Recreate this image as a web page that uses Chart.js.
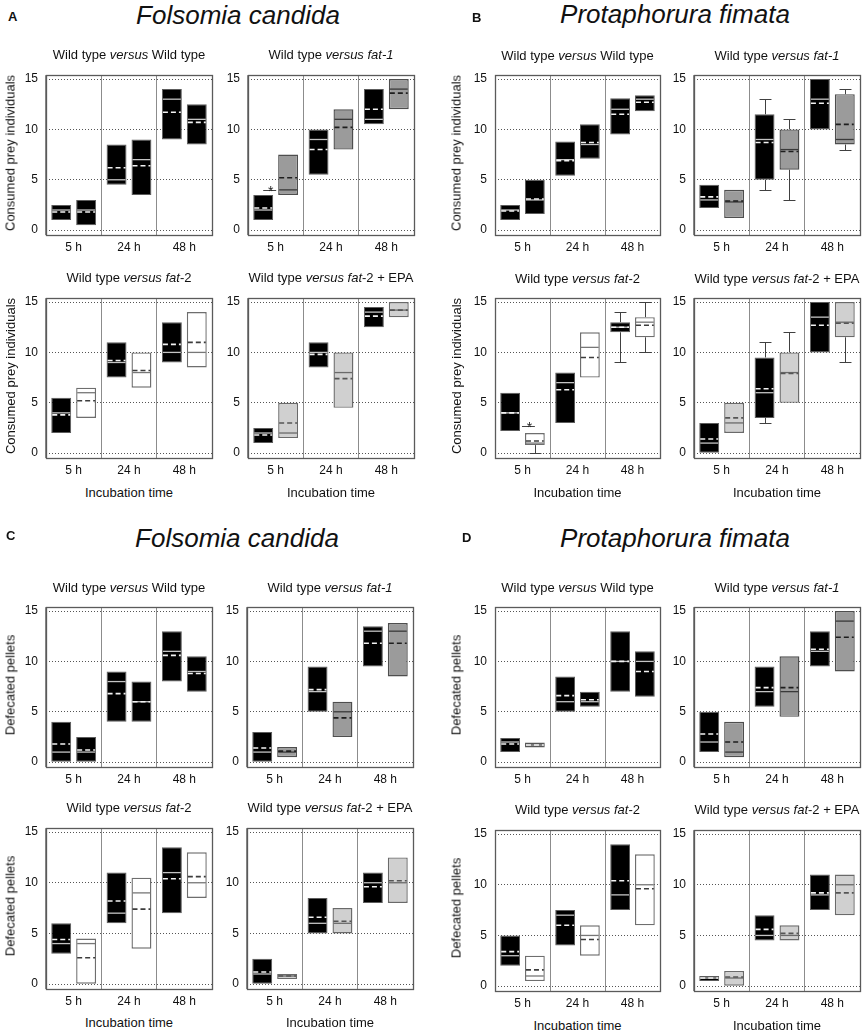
<!DOCTYPE html>
<html>
<head>
<meta charset="utf-8">
<script src="https://cdn.jsdelivr.net/npm/chart.js@4.4.1/dist/chart.umd.min.js"></script>
<style>
  body { margin: 0; background: #fff; }
  #fig { position: relative; width: 863px; height: 1032px; overflow: hidden;
         font-family: "Liberation Sans", Arial, sans-serif; color: #111; }
  .t { position: absolute; white-space: nowrap; line-height: 1; }
  canvas { position: absolute; }
</style>
</head>
<body>
<div id="fig"></div>
<script>
// ---- data ----
const categories = ['5 h', '24 h', '48 h'];
const yTicks = [0, 5, 10, 15];

// one tuple per time: [box low, box high, median, mean, whisker min, whisker max]
// A: Folsomia candida, consumed prey
const A1_wt = [[1, 2.5, 2, 1.8], [4.5, 8.5, 5, 6.2], [9, 14, 13, 11.7]];
const A1_vs = [[0.5, 3, 2, 1.8], [3.5, 9, 7, 6.4], [8.5, 12.5, 11, 10.7]];
const A2_wt = [[1, 3.5, 2, 2.2], [5.5, 10, 9, 8], [10.5, 14, 11, 12]];
const A2_vs = [[3.5, 7.5, 4, 5.2], [8, 12, 11, 10.2], [12, 15, 14, 13.6]];
const A3_wt = [[2, 5.5, 4, 3.8], [7.5, 11, 9, 9.2], [9, 13, 10, 10.8]];
const A3_vs = [[3.5, 6.5, 6, 5.2], [6.5, 10, 8, 8.2], [8.5, 14, 10, 11]];
const A4_wt = [[1, 2.5, 2, 1.8], [8.5, 11, 10, 9.8], [12.5, 14.5, 14, 13.6]];
const A4_vs = [[1.5, 5, 2, 3], [4.5, 10, 8, 7.4], [13.5, 15, 14.2, 14.2]];

// B: Protaphorura fimata, consumed prey
const B1_wt = [[1, 2.5, 2, 1.9], [5.4, 8.8, 7, 6.9], [9.5, 13.1, 12, 11.5]];
const B1_vs = [[1.6, 5, 3, 3.1], [7.1, 10.5, 8.5, 8.7], [11.8, 13.4, 13, 12.7]];
const B2_wt = [[2.2, 4.5, 3, 3.3], [5, 11.5, 9, 8.7, 4, 13], [10, 15, 13, 12.6]];
const B2_vs = [[1.2, 4, 2.8, 2.9], [6, 10, 8, 7.8, 3, 11], [8.5, 13.5, 9, 10.5, 8, 14]];
const B3_wt = [[2.2, 6, 4, 4], [3, 8, 7, 6.3], [12, 13, 12.5, 12.5, 9, 14]];
const B3_vs = [[0.8, 2, 1, 1.2, 0, null], [7.5, 12, 10.5, 9.5], [11.5, 13.5, 13, 12.7, 10, 15]];
const B4_wt = [[0, 3, 1, 1.4], [3.5, 9.5, 6, 6.4, 3, 11], [10, 15, 13.5, 12.7]];
const B4_vs = [[2, 5, 3, 3.5], [5, 10, 8, 7.9, null, 12], [11.5, 15, 13, 12.9, 9, null]];

// C: Folsomia candida, defecated pellets
const C1_wt = [[0, 4, 1, 1.8], [4, 9, 8, 6.8], [8, 13, 11, 10.6]];
const C1_vs = [[0, 2.5, 1, 1.2], [4, 8, 6, 6], [7, 10.5, 9, 8.8]];
const C2_wt = [[0, 3, 1, 1.4], [5, 9.5, 7, 7.2], [9.5, 13.5, 13, 11.8]];
const C2_vs = [[0.5, 1.5, 1, 1.1], [2.5, 6, 5, 4.4], [8.5, 13.8, 13, 11.8]];
const C3_wt = [[3, 6, 4, 4.4], [6, 11, 7, 8.2], [7, 13.5, 11, 10.4]];
const C3_vs = [[0, 4.5, 4, 2.6], [3.5, 10.5, 9, 7.4], [8.5, 13, 10, 10.6]];
const C4_wt = [[0, 2.5, 1, 1.2], [5, 8.5, 6, 6.6], [8, 11, 10, 9.6]];
const C4_vs = [[0.5, 1, 0.8, 0.8], [5, 7.5, 6, 6.2], [8, 12.5, 10, 10.2]];

// D: Protaphorura fimata, defecated pellets
const D1_wt = [[1, 2.4, 2, 1.8], [5, 8.5, 6, 6.6], [7, 13, 10, 10]];
const D1_vs = [[1.45, 1.95, 1.7, 1.7], [5.5, 7, 6, 6.2], [6.5, 11, 10, 9]];
const D2_wt = [[1, 5, 2, 2.8], [5.5, 9.5, 7, 7.4], [9.5, 13, 11, 11.2]];
const D2_vs = [[0.5, 4, 1, 2], [4.5, 10.5, 7, 7.4], [9, 15, 14, 12.4]];
const D3_wt = [[2, 5, 3, 3.4], [4, 7.5, 7, 6], [7.5, 14, 9, 10.4]];
const D3_vs = [[0.5, 3, 1, 1.6], [3, 6, 5, 4.6], [6, 13, 10, 9.6]];
const D4_wt = [[0.5, 1, 0.8, 0.8], [4.5, 7, 5, 5.6], [7.5, 11, 9, 9.2]];
const D4_vs = [[0, 1.5, 0.8, 0.9], [4.5, 6, 5, 5.2], [7, 11, 10, 9.2]];

// significant differences (*): panel, time index, series index, height
const sigMarks = [
  { panel: 'A2', cat: 0, series: 0, y: 4 },
  { panel: 'B3', cat: 0, series: 1, y: 2.7 }
];

const panelTitles = [
  'Wild type <i>versus</i> Wild type',
  'Wild type <i>versus fat-1</i>',
  'Wild type <i>versus fat</i>-2',
  'Wild type <i>versus fat</i>-2 + EPA'
];

// ---- styles ----
const fills = ['#000000', '#9b9b9b', '#ffffff', '#d0d0d0'];
const look = {
  '#000000': { border: '#5c5c5c', bw: 1, median: '#c4c4c4', mean: '#f2f2f2' },
  '#9b9b9b': { border: '#4e4e4e', bw: 1.4, median: '#3a3a3a', mean: '#1e1e1e' },
  '#ffffff': { border: '#6e6e6e', bw: 1.4, median: '#777777', mean: '#3c3c3c' },
  '#d0d0d0': { border: '#6a6a6a', bw: 1.4, median: '#6a6a6a', mean: '#555555' }
};

const quads = [
  { id: 'A', species: 'Folsomia candida', ylab: 'Consumed prey individuals',
    letter: [8, 21], title: [238, 24], cols: [46, 248], colW: [166, 166],
    rows: [70, 293], rowH: [165, 165], titleBase: [59, 282], xlabBase: 497, ylabX: 10,
    sets: [[A1_wt, A1_vs], [A2_wt, A2_vs], [A3_wt, A3_vs], [A4_wt, A4_vs]] },
  { id: 'B', species: 'Protaphorura fimata', ylab: 'Consumed prey individuals',
    letter: [472, 22], title: [675, 23], cols: [495, 694], colW: [165, 166],
    rows: [70, 293], rowH: [165, 165], titleBase: [60, 283], xlabBase: 497, ylabX: 456,
    sets: [[B1_wt, B1_vs], [B2_wt, B2_vs], [B3_wt, B3_vs], [B4_wt, B4_vs]] },
  { id: 'C', species: 'Folsomia candida', ylab: 'Defecated pellets',
    letter: [6, 540], title: [237, 547], cols: [46, 247], colW: [166, 166],
    rows: [602, 823], rowH: [165, 166], titleBase: [592, 812], xlabBase: 1027, ylabX: 10,
    sets: [[C1_wt, C1_vs], [C2_wt, C2_vs], [C3_wt, C3_vs], [C4_wt, C4_vs]] },
  { id: 'D', species: 'Protaphorura fimata', ylab: 'Defecated pellets',
    letter: [462, 542], title: [675, 547], cols: [495, 694], colW: [165, 166],
    rows: [602, 825], rowH: [165, 166], titleBase: [592, 814], xlabBase: 1030, ylabX: 456,
    sets: [[D1_wt, D1_vs], [D2_wt, D2_vs], [D3_wt, D3_vs], [D4_wt, D4_vs]] }
];

const fig = document.getElementById('fig');
Chart.defaults.font.family = '"Liberation Sans", Arial, sans-serif';
Chart.defaults.font.size = 12;
Chart.defaults.color = '#111';

// text placed by its baseline
function txt(html, x, base, size, opt) {
  opt = opt || {};
  const d = document.createElement('div');
  d.className = 't';
  d.innerHTML = html;
  d.style.fontSize = size + 'px';
  if (opt.bold) d.style.fontWeight = 'bold';
  if (opt.italic) d.style.fontStyle = 'italic';
  d.style.left = x + 'px';
  d.style.top = (base - 0.8465 * size) + 'px';
  if (opt.center) d.style.transform = 'translateX(-50%)';
  fig.appendChild(d);
  return d;
}

function rotTxt(s, cx, cy, size) {
  const d = document.createElement('div');
  d.className = 't';
  d.textContent = s;
  d.style.fontSize = size + 'px';
  d.style.left = cx + 'px';
  d.style.top = cy + 'px';
  d.style.transform = 'translate(-50%, -50%) rotate(-90deg)';
  fig.appendChild(d);
}

// median, mean and whiskers on top of the floating bars
const boxLines = {
  id: 'boxLines',
  afterDatasetsDraw(chart) {
    const ctx = chart.ctx, ys = chart.scales.y;
    chart.data.datasets.forEach((ds, i) => {
      const meta = chart.getDatasetMeta(i);
      const lk = look[ds.backgroundColor];
      meta.data.forEach((bar, j) => {
        const s = ds.stats[j];
        const half = bar.width / 2;
        ctx.save();
        ctx.strokeStyle = '#404040';
        ctx.lineWidth = 1;
        [[s[4], s[0]], [s[5], s[1]]].forEach(([end, edge]) => {
          if (end == null) return;
          const ye = Math.round(ys.getPixelForValue(end)) + 0.5;
          const yb = ys.getPixelForValue(edge);
          const xc = Math.round(bar.x) + 0.5;
          ctx.beginPath();
          ctx.moveTo(xc, yb);
          ctx.lineTo(xc, ye);
          ctx.moveTo(xc - half * 0.6, ye);
          ctx.lineTo(xc + half * 0.6, ye);
          ctx.stroke();
        });
        const hline = (v) => {
          const y = ys.getPixelForValue(v);
          ctx.beginPath();
          ctx.moveTo(bar.x - half + 1, y);
          ctx.lineTo(bar.x + half - 1, y);
          ctx.stroke();
        };
        ctx.strokeStyle = lk.median;
        ctx.lineWidth = 1.3;
        hline(s[2]);
        ctx.setLineDash([5, 3]);
        ctx.strokeStyle = lk.mean;
        ctx.lineWidth = 1.6;
        hline(s[3]);
        ctx.restore();
      });
    });
  },
  afterDraw(chart) {
    const ctx = chart.ctx, a = chart.chartArea;
    ctx.save();
    ctx.strokeStyle = '#5a5a5a';
    ctx.lineWidth = 1.3;
    ctx.strokeRect(Math.round(a.left) + 0.5, Math.round(a.top) + 0.5,
      Math.round(a.right - a.left), Math.round(a.bottom - a.top));
    const ys = chart.scales.y;
    sigMarks.filter(m => m.panel === chart.options.panelId).forEach(m => {
      const bar = chart.getDatasetMeta(m.series).data[m.cat];
      const half = bar.width / 2;
      const x1 = m.series === 0 ? bar.x : bar.x - half - 3;
      const x2 = m.series === 0 ? bar.x + half + 3 : bar.x;
      const y = Math.round(ys.getPixelForValue(m.y)) + 0.5;
      ctx.strokeStyle = '#444';
      ctx.lineWidth = 1;
      ctx.beginPath();
      ctx.moveTo(x1, y);
      ctx.lineTo(x2, y);
      ctx.stroke();
      ctx.fillStyle = '#222';
      ctx.font = '14px "Liberation Sans", Arial, sans-serif';
      ctx.textAlign = 'center';
      ctx.fillText('*', (x1 + x2) / 2 + 1, y + 5);
    });
    ctx.restore();
  }
};

function makePanel(q, k) {
  const col = k % 2, row = Math.floor(k / 2);
  const fx = q.cols[col], fy = q.rows[row], fw = q.colW[col], fh = q.rowH[row];
  const [wt, vs] = q.sets[k];
  const L = 44, T = 10, R = 6, B = 26;
  const cv = document.createElement('canvas');
  cv.width = fw + L + R;
  cv.height = fh + T + B;
  cv.style.left = (fx - L) + 'px';
  cv.style.top = (fy - T) + 'px';
  fig.appendChild(cv);

  const mk = (stats, fill) => ({
    data: stats.map(s => [s[0], s[1]]),
    stats: stats,
    backgroundColor: fill,
    borderColor: look[fill].border,
    borderWidth: look[fill].bw,
    borderSkipped: false,
    categoryPercentage: 0.9,
    barPercentage: 0.8
  });

  new Chart(cv, {
    type: 'bar',
    data: { labels: categories, datasets: [mk(wt, fills[0]), mk(vs, fills[k])] },
    options: {
      panelId: q.id + (k + 1),
      responsive: false,
      animation: false,
      layout: { padding: { left: 0, top: T, right: R, bottom: 0 } },
      plugins: { legend: { display: false }, tooltip: { enabled: false } },
      scales: {
        x: {
          type: 'category',
          offset: true,
          grid: { offset: true, color: '#8c8c8c', lineWidth: 1, drawTicks: false },
          border: { display: false },
          ticks: { padding: 5, color: '#111', font: { size: 12 } },
          afterFit: s => { s.height = B; }
        },
        y: {
          min: -0.48,
          max: 15.38,
          afterBuildTicks: s => { s.ticks = yTicks.map(v => ({ value: v })); },
          grid: { color: '#555', lineWidth: 1, drawTicks: false },
          border: { display: false, dash: [1, 2] },
          ticks: { padding: 8, color: '#111', font: { size: 12 } },
          afterFit: s => { s.width = L; }
        }
      }
    },
    plugins: [boxLines]
  });

  txt(panelTitles[k], fx + fw / 2, q.titleBase[row], 13, { center: true });
  if (col === 0) rotTxt(q.ylab, q.ylabX, fy + fh / 2, 13);
  if (row === 1) txt('Incubation time', fx + fw / 2, q.xlabBase, 13, { center: true });
}

quads.forEach(q => {
  txt(q.id, q.letter[0], q.letter[1], 13, { bold: true });
  txt(q.species, q.title[0], q.title[1], 26, { italic: true, center: true });
  for (let k = 0; k < 4; k++) makePanel(q, k);
});
</script>
</body>
</html>
